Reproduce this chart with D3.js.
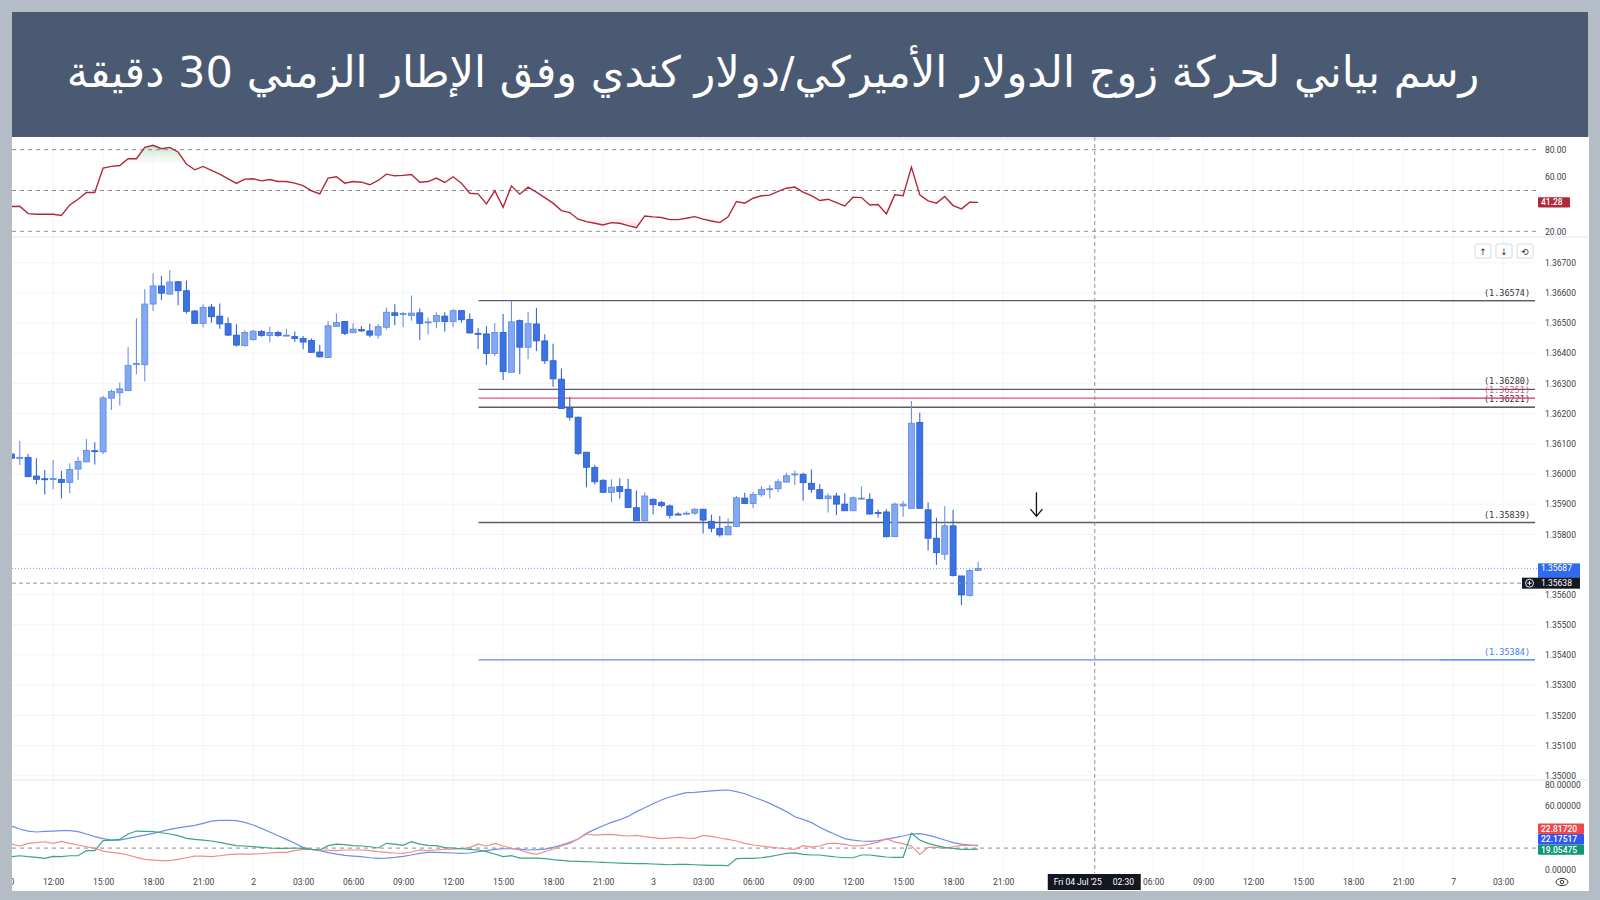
<!DOCTYPE html>
<html><head><meta charset="utf-8">
<script src="https://cdn.jsdelivr.net/npm/d3@7"></script>
<style>body{margin:0;background:#b4bcc6;overflow:hidden}svg{display:block}</style>
</head><body>
<svg id="c" width="1600" height="900"></svg>
<script>
// ---------------- DATA ----------------
const titleText = "رسم بياني لحركة زوج الدولار الأميركي/دولار كندي وفق الإطار الزمني 30 دقيقة";
const barStart = 19; // first bar index (30-minute bars counted from 1 Jul 00:00)
const opens = [
1.36066,1.36051,1.36055,1.35993,1.35984,1.35983,1.35982,1.35972,1.36016,1.36040,
1.36077,1.36073,1.36251,1.36269,1.36276,1.36365,1.36362,1.36563,1.36623,1.36596,
1.36637,1.36607,1.36540,1.36499,1.36553,1.36523,1.36498,1.36460,1.36425,1.36445,
1.36472,1.36459,1.36469,1.36459,1.36455,1.36449,1.36442,1.36404,1.36386,1.36489,
1.36505,1.36468,1.36478,1.36474,1.36460,1.36486,1.36534,1.36531,1.36525,1.36534,
1.36503,1.36505,1.36523,1.36505,1.36541,1.36512,1.36466,1.36464,1.36399,1.36469,
1.36337,1.36508,1.36420,1.36497,1.36441,1.36375,1.36314,1.36217,1.36188,1.36072,
1.36021,1.35979,1.35939,1.35958,1.35949,1.35888,1.35845,1.35916,1.35905,1.35894,
1.35867,1.35868,1.35870,1.35883,1.35843,1.35820,1.35798,1.35826,1.35920,1.35902,
1.35931,1.35950,1.35951,1.35973,1.35999,1.35999,1.35969,1.35948,1.35918,1.35927,
1.35900,1.35878,1.35919,1.35916,1.35872,1.35874,1.35792,1.35894,1.35886,1.36171,
1.35881,1.35787,1.35734,1.35828,1.35662,1.35597,1.35680];
const highs = [
1.36090,1.36110,1.36066,1.36052,1.36013,1.36046,1.36010,1.36035,1.36057,1.36116,
1.36105,1.36258,1.36280,1.36303,1.36420,1.36516,1.36612,1.36665,1.36656,1.36676,
1.36639,1.36641,1.36543,1.36562,1.36563,1.36565,1.36518,1.36496,1.36476,1.36477,
1.36477,1.36488,1.36474,1.36481,1.36472,1.36457,1.36449,1.36427,1.36507,1.36532,
1.36506,1.36499,1.36490,1.36498,1.36497,1.36551,1.36562,1.36537,1.36591,1.36548,
1.36518,1.36536,1.36536,1.36546,1.36543,1.36532,1.36483,1.36490,1.36499,1.36530,
1.36574,1.36512,1.36537,1.36550,1.36463,1.36431,1.36349,1.36256,1.36190,1.36073,
1.36030,1.35982,1.35982,1.35986,1.35984,1.35945,1.35939,1.35919,1.35910,1.35899,
1.35873,1.35876,1.35886,1.35885,1.35865,1.35861,1.35853,1.35927,1.35938,1.35940,
1.35960,1.35963,1.35982,1.36004,1.36011,1.36004,1.36015,1.35967,1.35936,1.35938,
1.35936,1.35925,1.35958,1.35936,1.35881,1.35883,1.35905,1.35910,1.36242,1.36203,
1.35905,1.35855,1.35894,1.35881,1.35662,1.35684,1.35709];
const lows = [
1.36041,1.36030,1.35989,1.35966,1.35932,1.35949,1.35919,1.35936,1.35980,1.36039,
1.36031,1.36066,1.36212,1.36227,1.36276,1.36330,1.36306,1.36540,1.36576,1.36594,
1.36559,1.36532,1.36497,1.36485,1.36501,1.36481,1.36457,1.36422,1.36422,1.36442,
1.36455,1.36436,1.36455,1.36457,1.36437,1.36413,1.36402,1.36386,1.36386,1.36488,
1.36460,1.36466,1.36470,1.36453,1.36448,1.36479,1.36493,1.36486,1.36508,1.36444,
1.36462,1.36483,1.36472,1.36486,1.36501,1.36466,1.36414,1.36361,1.36391,1.36311,
1.36337,1.36330,1.36380,1.36407,1.36364,1.36289,1.36216,1.36177,1.36063,1.35956,
1.35965,1.35938,1.35906,1.35919,1.35888,1.35845,1.35839,1.35866,1.35889,1.35852,
1.35864,1.35864,1.35864,1.35803,1.35807,1.35792,1.35798,1.35825,1.35902,1.35887,
1.35924,1.35919,1.35940,1.35972,1.35963,1.35911,1.35938,1.35916,1.35872,1.35864,
1.35878,1.35877,1.35914,1.35866,1.35856,1.35789,1.35792,1.35858,1.35886,1.35886,
1.35746,1.35698,1.35715,1.35660,1.35566,1.35593,1.35679];
const closes = [
1.36052,1.36055,1.35991,1.35982,1.35983,1.35985,1.35972,1.36015,1.36042,1.36078,
1.36076,1.36252,1.36273,1.36282,1.36359,1.36366,1.36563,1.36623,1.36599,1.36636,
1.36607,1.36539,1.36499,1.36552,1.36521,1.36497,1.36460,1.36427,1.36469,1.36473,
1.36459,1.36469,1.36459,1.36460,1.36449,1.36437,1.36403,1.36388,1.36491,1.36502,
1.36466,1.36480,1.36474,1.36460,1.36488,1.36536,1.36525,1.36532,1.36533,1.36499,
1.36504,1.36525,1.36505,1.36541,1.36511,1.36467,1.36464,1.36399,1.36469,1.36339,
1.36504,1.36420,1.36498,1.36441,1.36375,1.36315,1.36217,1.36188,1.36068,1.36022,
1.35974,1.35939,1.35956,1.35942,1.35889,1.35845,1.35927,1.35898,1.35895,1.35863,
1.35866,1.35870,1.35883,1.35847,1.35820,1.35798,1.35826,1.35921,1.35902,1.35932,
1.35949,1.35951,1.35974,1.35994,1.36000,1.35971,1.35949,1.35918,1.35927,1.35900,
1.35878,1.35921,1.35920,1.35867,1.35871,1.35792,1.35900,1.35900,1.36168,1.35886,
1.35787,1.35739,1.35828,1.35663,1.35599,1.35680,1.35687];
const rsi = [
38.2,38.4,33.0,32.5,32.5,32.5,31.6,39.4,43.6,48.5,
48.5,66.5,67.7,68.4,73.4,73.4,81.7,83.2,80.7,81.7,
78.3,69.4,65.2,67.7,64.8,62.0,58.6,55.2,58.4,58.6,
57.1,58.1,56.6,56.6,55.4,53.6,49.8,47.5,59.1,60.1,
55.4,56.6,56.1,54.2,57.4,62.0,60.8,61.1,61.8,56.1,
56.6,59.1,55.9,60.1,55.4,48.0,47.5,40.2,49.8,37.7,
53.4,47.3,52.5,48.8,44.8,
40.7,35.2,33.8,28.9,27.1,25.9,24.7,26.4,25.9,24.2,
22.7,31.3,30.6,30.1,28.6,28.6,29.6,30.8,28.9,27.6,
26.4,30.6,41.9,40.7,44.3,46.1,46.6,49.3,51.7,52.5,
48.8,46.3,42.6,43.6,41.1,38.7,45.1,44.8,39.4,39.7,
32.8,46.8,46.1,67.2,46.8,42.4,40.7,45.6,38.9,36.5,
41.4,41.28];
const adx = [
40.8,38.0,36.1,35.2,35.8,36.1,36.4,36.4,35.5,33.3,
30.8,28.9,27.6,27.6,29.2,30.8,32.3,33.9,35.8,37.7,
39.0,40.2,41.5,43.4,45.5,46.2,46.2,45.9,44.3,41.8,
38.6,35.2,31.7,28.2,24.5,20.7,18.8,17.6,15.7,14.4,
13.2,12.5,11.9,10.9,10.3,10.6,11.3,12.2,13.5,15.0,
16.0,16.0,15.7,15.4,15.0,15.4,16.6,17.6,18.8,19.4,
19.4,19.1,
18.2,18.5,19.1,20.7,22.9,25.4,28.6,33.9,37.7,41.1,
44.3,46.8,49.9,54.4,58.1,61.9,65.4,68.2,70.4,72.3,
72.6,73.2,73.9,74.5,74.8,73.2,71.3,68.2,65.4,62.2,
58.4,54.4,49.6,47.1,44.0,39.6,35.8,32.3,28.9,27.6,
26.7,26.4,27.0,28.2,29.8,31.4,33.3,33.6,32.3,30.1,
27.6,25.1,23.8,22.9,22.17517];
const diMinus = [
23.8,22.0,24.5,25.1,26.0,24.5,26.4,24.5,22.9,21.3,
19.8,17.2,16.0,15.0,13.5,11.3,9.4,8.7,8.1,8.1,
9.4,10.9,12.5,12.5,11.9,12.8,13.8,14.4,14.4,14.4,
14.7,15.4,16.0,16.0,17.6,18.8,18.8,18.2,17.9,17.6,
18.2,18.2,18.2,17.6,16.6,16.0,15.4,15.0,16.3,18.2,
17.6,18.2,19.1,19.1,19.4,20.7,23.8,22.0,24.5,22.0,
19.8,18.2,
15.7,14.1,16.6,19.1,22.0,24.5,28.6,33.3,32.3,32.7,
33.0,32.0,31.4,32.0,30.8,29.8,28.9,29.5,30.1,29.5,
29.2,32.0,31.1,29.5,28.2,26.7,24.5,22.9,22.0,21.0,
20.1,19.4,18.8,22.3,21.0,22.0,24.5,24.5,23.5,22.0,
22.3,23.8,25.7,28.9,25.7,24.2,22.0,14.1,20.7,20.7,
19.8,21.3,22.6,22.6,22.81720];
const diPlus = [
11.9,12.8,11.9,11.3,10.3,12.2,11.9,12.8,12.8,17.6,
17.6,27.0,27.6,28.2,33.3,36.1,35.8,35.5,34.5,33.3,
31.7,29.2,28.2,27.6,26.7,25.4,23.8,22.3,22.0,21.3,
20.7,20.1,19.8,19.8,20.1,19.8,18.8,18.2,22.3,23.8,
23.2,22.3,22.0,21.3,20.1,24.5,23.8,22.6,26.0,23.8,
22.6,22.3,20.4,20.1,19.4,18.8,18.2,16.6,14.4,11.9,
12.8,10.6,
10.6,10.6,10.0,9.1,8.4,7.8,7.5,7.2,6.9,6.5,
6.2,5.9,5.6,5.3,5.3,5.0,4.7,4.3,4.7,4.7,
4.3,4.0,3.7,3.7,3.4,10.0,10.3,10.3,10.9,11.9,
13.5,15.0,15.4,14.1,13.5,13.5,12.5,11.6,10.9,10.9,
13.5,13.5,12.5,11.6,11.3,11.3,33.9,27.6,24.5,22.3,
20.7,19.8,18.8,18.8,19.05475];
const priceTicks = [1.367,1.366,1.365,1.364,1.363,1.362,1.361,1.360,1.359,1.358,1.356,1.355,1.354,1.353,1.352,1.351,1.350];
const rsiTicks = [80,60,20];
const rsiBands = [80,50,20];
const dmiTicks = [80,60,0];
const dmiBand = 20;
const tickBars = [18,24,30,36,42,48,54,60,66,72,78,84,90,96,102,108,114,120,126,132,138,156,162,168,174,180,186,192,198];
const tickLabels = ["09:00","12:00","15:00","18:00","21:00","2","03:00","06:00","09:00","12:00","15:00","18:00","21:00","3","03:00","06:00","09:00","12:00","15:00","18:00","21:00","06:00","09:00","12:00","15:00","18:00","21:00","7","03:00"];
const levels = [1.36574,1.36280,1.36251,1.36221,1.35839,1.35384];
const levelKinds = ["k","k","p","k","k","b"];
const levelStartBar = 75;
const lastPrice = 1.35687;
const crossPrice = 1.35638;
const crossBar = 149;
const crossTimeText = ["Fri 04 Jul '25","02:30"];
const arrowBar = 142, arrowFrom = 1.35939, arrowTo = 1.35860;
const rsiLast = 41.28;

// ---------------- LAYOUT ----------------
const L = 12, R = 1537, AX = 1545;
const svg = d3.select("#c");
const x = d3.scaleLinear().domain([48, 96]).range([253.1, 653.1]);
const yP = d3.scaleLinear().domain([1.35, 1.367]).range([775.7, 262.7]);
const yR = d3.scaleLinear().domain([20, 80]).range([231.3, 149.7]);
const yD = d3.scaleLinear().domain([0, 80]).range([869.3, 784.5]);
const axisFont = "Roboto, 'DejaVu Sans', sans-serif";
const txtCol = "#3a3e48";

svg.append("rect").attr("width", 1600).attr("height", 900).attr("fill", "#b4bcc6");
svg.append("rect").attr("x", 12).attr("y", 12).attr("width", 1576).attr("height", 125).attr("fill", "#4a5a73");
svg.append("rect").attr("x", 12).attr("y", 137).attr("width", 1577).attr("height", 754).attr("fill", "#ffffff");

const defs = svg.append("defs");
function clip(id, cx, cy, w, h) { defs.append("clipPath").attr("id", id).append("rect").attr("x", cx).attr("y", cy).attr("width", w).attr("height", h); }
clip("cR", L, 137, R - L, 100);
clip("cM", L, 237, R - L, 543);
clip("cD", L, 780, R - L, 93);
clip("cT", L, 872, 1576, 19);
clip("cAll", L, 137, R - L, 736);
const gradG = defs.append("linearGradient").attr("id", "gG").attr("x1", 0).attr("x2", 0).attr("y1", 0).attr("y2", 1);
gradG.append("stop").attr("offset", "0%").attr("stop-color", "#b9dfc4").attr("stop-opacity", 0.9);
gradG.append("stop").attr("offset", "100%").attr("stop-color", "#e9f5ec").attr("stop-opacity", 0.3);
const gradP = defs.append("linearGradient").attr("id", "gP").attr("x1", 0).attr("x2", 0).attr("y1", 1).attr("y2", 0);
gradP.append("stop").attr("offset", "0%").attr("stop-color", "#f8d3d8").attr("stop-opacity", 0.8);
gradP.append("stop").attr("offset", "100%").attr("stop-color", "#fcecee").attr("stop-opacity", 0.3);

// Title
const title = svg.append("text").attr("x", 773).attr("y", 87).attr("text-anchor", "middle")
  .attr("direction", "rtl").attr("fill", "#ffffff").attr("font-family", "'DejaVu Sans', sans-serif")
  .attr("font-size", 40).text(titleText);
const tl = title.node().getComputedTextLength();
if (tl > 0) title.attr("font-size", 40 * 1413 / tl);

// top faint strip
svg.append("rect").attr("x", 530).attr("y", 137).attr("width", 640).attr("height", 3).attr("fill", "#eceef1");

// grid
const gGrid = svg.append("g").attr("clip-path", "url(#cAll)");
gGrid.selectAll("line.v").data(tickBars).join("line")
  .attr("x1", d => x(d)).attr("x2", d => x(d)).attr("y1", 137).attr("y2", 873)
  .attr("stroke", "#f3f4f7").attr("stroke-width", 1);
gGrid.selectAll("line.h").data(priceTicks).join("line")
  .attr("x1", L).attr("x2", R).attr("y1", d => yP(d)).attr("y2", d => yP(d))
  .attr("stroke", "#f3f4f7").attr("stroke-width", 1);

// pane separators
[237, 780].forEach(yy => svg.append("line").attr("x1", L).attr("x2", 1588).attr("y1", yy).attr("y2", yy).attr("stroke", "#e3e6ec").attr("stroke-width", 1));

const bars = d3.range(opens.length).map(i => ({ t: barStart + i, o: opens[i], h: highs[i], l: lows[i], c: closes[i], r: rsi[i], a: adx[i], m: diMinus[i], p: diPlus[i] }));

// ---------- RSI pane ----------
const gR = svg.append("g").attr("clip-path", "url(#cR)");
gR.append("path").datum(bars).attr("fill", "url(#gG)")
  .attr("d", d3.area().x(d => x(d.t)).y0(yR(70)).y1(d => yR(Math.max(d.r, 70))));
gR.append("path").datum(bars).attr("fill", "url(#gP)")
  .attr("d", d3.area().x(d => x(d.t)).y0(yR(30)).y1(d => yR(Math.min(d.r, 30))));
gR.selectAll("line.band").data(rsiBands).join("line")
  .attr("x1", L).attr("x2", R).attr("y1", d => yR(d)).attr("y2", d => yR(d))
  .attr("stroke", "#8a8d94").attr("stroke-width", 1).attr("stroke-dasharray", "4,4");
gR.append("path").datum(bars).attr("fill", "none").attr("stroke", "#b2283b").attr("stroke-width", 1.4)
  .attr("d", d3.line().x(d => x(d.t)).y(d => yR(d.r)));

// ---------- Main pane ----------
const gM = svg.append("g").attr("clip-path", "url(#cM)");
gM.append("line").attr("x1", L).attr("x2", R).attr("y1", yP(lastPrice)).attr("y2", yP(lastPrice))
  .attr("stroke", "#7b9ff0").attr("stroke-width", 1).attr("stroke-dasharray", "1,2");
const lvlStroke = { k: "#5a5d66", p: "#e4527f", b: "#5a8cf0" };
const lvlText = { k: "#2f323a", p: "#e4527f", b: "#4a7ce8" };
gM.selectAll("line.lvl").data(levels).join("line")
  .attr("x1", x(levelStartBar) + 0.5).attr("x2", 1535)
  .attr("y1", d => yP(d)).attr("y2", d => yP(d))
  .attr("stroke", (d, i) => lvlStroke[levelKinds[i]]).attr("stroke-width", 1.3);
gM.selectAll("line.wick").data(bars).join("line")
  .attr("x1", d => x(d.t)).attr("x2", d => x(d.t))
  .attr("y1", d => yP(d.h)).attr("y2", d => yP(d.l))
  .attr("stroke", d => d.c >= d.o ? "#6b91e4" : "#3667d8").attr("stroke-width", 1.1);
gM.selectAll("rect.body").data(bars).join("rect")
  .attr("x", d => x(d.t) - 3).attr("width", 6)
  .attr("y", d => yP(Math.max(d.o, d.c)))
  .attr("height", d => Math.max(1, Math.abs(yP(d.o) - yP(d.c))))
  .attr("fill", d => d.c >= d.o ? "#82a8f3" : "#3b73e3")
  .attr("stroke", d => d.c >= d.o ? "#5d87e2" : "#2a5cca").attr("stroke-width", 0.8);
svg.selectAll("text.lvl").data(levels).join("text")
  .attr("x", 1530).attr("y", d => yP(d) - 5).attr("text-anchor", "end")
  .attr("font-family", "'DejaVu Sans Mono', monospace").attr("font-size", 8.5)
  .attr("fill", (d, i) => lvlText[levelKinds[i]])
  .text(d => "(" + d3.format(".5f")(d) + ")");
svg.selectAll("line.lvl2").data(levels).join("line")
  .attr("x1", 1440).attr("x2", 1535)
  .attr("y1", d => yP(d)).attr("y2", d => yP(d))
  .attr("stroke", (d, i) => lvlStroke[levelKinds[i]]).attr("stroke-width", 1.1);

// arrow
const ax0 = x(arrowBar);
gM.append("line").attr("x1", ax0).attr("x2", ax0).attr("y1", yP(arrowFrom)).attr("y2", yP(arrowTo))
  .attr("stroke", "#111").attr("stroke-width", 1.3);
gM.append("path").attr("d", `M${ax0 - 6},${yP(arrowTo) - 7} L${ax0},${yP(arrowTo)} L${ax0 + 6},${yP(arrowTo) - 7}`)
  .attr("fill", "none").attr("stroke", "#111").attr("stroke-width", 1.3);

// top-right buttons
const btn = svg.append("g");
[["↑", 1475], ["↓", 1496], ["⟲", 1517]].forEach(([g, bx]) => {
  btn.append("rect").attr("x", bx).attr("y", 244).attr("width", 16).attr("height", 14).attr("rx", 2)
    .attr("fill", "#fff").attr("stroke", "#d6d9df");
  btn.append("text").attr("x", bx + 8).attr("y", 254.5).attr("text-anchor", "middle")
    .attr("font-family", "'DejaVu Sans', sans-serif").attr("font-size", 9).attr("fill", "#333").text(g);
});

// ---------- DMI pane ----------
const gD = svg.append("g").attr("clip-path", "url(#cD)");
gD.append("line").attr("x1", L).attr("x2", R).attr("y1", yD(dmiBand)).attr("y2", yD(dmiBand))
  .attr("stroke", "#8a8d94").attr("stroke-width", 1).attr("stroke-dasharray", "4,4");
[["a", "#6f8fe9"], ["m", "#f28c8c"], ["p", "#3ba586"]].forEach(([k, col]) => {
  gD.append("path").datum(bars).attr("fill", "none").attr("stroke", col).attr("stroke-width", 1.2)
    .attr("d", d3.line().x(d => x(d.t)).y(d => yD(d[k])));
});

// ---------- crosshair ----------
const gC = svg.append("g").attr("clip-path", "url(#cAll)");
gC.append("line").attr("x1", x(crossBar)).attr("x2", x(crossBar)).attr("y1", 137).attr("y2", 873)
  .attr("stroke", "#8f939b").attr("stroke-width", 1).attr("stroke-dasharray", "4,3");
gC.append("line").attr("x1", L).attr("x2", R).attr("y1", yP(crossPrice)).attr("y2", yP(crossPrice))
  .attr("stroke", "#8f939b").attr("stroke-width", 1).attr("stroke-dasharray", "4,3");

// ---------- axes ----------
function styleAxis(g) {
  g.select(".domain").remove();
  g.selectAll(".tick line").remove();
  g.selectAll("text").attr("font-family", axisFont).attr("font-size", 8.5).attr("fill", txtCol);
}
svg.append("g").attr("transform", `translate(${AX},0)`)
  .call(d3.axisRight(yP).tickValues(priceTicks).tickFormat(d3.format(".5f")).tickSize(0).tickPadding(0))
  .call(styleAxis);
svg.append("g").attr("transform", `translate(${AX},0)`)
  .call(d3.axisRight(yR).tickValues(rsiTicks).tickFormat(d3.format(".2f")).tickSize(0).tickPadding(0))
  .call(styleAxis);
svg.append("g").attr("transform", `translate(${AX},0)`)
  .call(d3.axisRight(yD).tickValues(dmiTicks).tickFormat(d3.format(".5f")).tickSize(0).tickPadding(0))
  .call(styleAxis);
svg.append("g").attr("clip-path", "url(#cT)")
  .append("g").attr("transform", "translate(0,876)")
  .call(d3.axisBottom(x).tickValues(tickBars).tickFormat((d, i) => tickLabels[i]).tickSize(0).tickPadding(3))
  .call(styleAxis);

// ---------- value labels ----------
function tag(yc, w, bg, txt, fg) {
  svg.append("rect").attr("x", 1538).attr("y", yc - 5.2).attr("width", w).attr("height", 10.4).attr("rx", 1).attr("fill", bg);
  svg.append("text").attr("x", 1541).attr("y", yc + 3).attr("font-family", axisFont).attr("font-size", 8.5)
    .attr("font-weight", 500).attr("fill", fg || "#fff").text(txt);
}
tag(yR(rsiLast), 32, "#b2283b", d3.format(".2f")(rsiLast));
svg.append("rect").attr("x", 1538).attr("y", yP(lastPrice) - 5).attr("width", 42).attr("height", 14.5).attr("fill", "#2f6bf0");
svg.append("text").attr("x", 1541).attr("y", yP(lastPrice) + 3).attr("font-family", axisFont).attr("font-size", 8.5).attr("fill", "#fff").text(d3.format(".5f")(lastPrice));
svg.append("rect").attr("x", 1522).attr("y", yP(crossPrice) - 5.5).attr("width", 58).attr("height", 11).attr("fill", "#131722");
svg.append("text").attr("x", 1541).attr("y", yP(crossPrice) + 3).attr("font-family", axisFont).attr("font-size", 8.5).attr("fill", "#fff").text(d3.format(".5f")(crossPrice));
svg.append("circle").attr("cx", 1529.5).attr("cy", yP(crossPrice)).attr("r", 4).attr("fill", "none").attr("stroke", "#fff").attr("stroke-width", 0.9);
svg.append("path").attr("d", `M1527.3,${yP(crossPrice)} h4.4 M1529.5,${yP(crossPrice) - 2.2} v4.4`).attr("stroke", "#fff").attr("stroke-width", 0.9);
const dmiTags = [
  { v: diPlus[diPlus.length - 1], bg: "#0f9577" },
  { v: adx[adx.length - 1], bg: "#3157f0" },
  { v: diMinus[diMinus.length - 1], bg: "#f0474f" }
].sort((a, b) => a.v - b.v);
let yc = yD(dmiTags[0].v) + 0.5;
dmiTags.forEach((d, i) => { tag(yc - i * 10.4, 46, d.bg, d3.format(".5f")(d.v)); });

// crosshair time label
const cx0 = x(crossBar);
svg.append("rect").attr("x", cx0 - 47).attr("y", 874).attr("width", 93).attr("height", 16).attr("fill", "#131722");
svg.append("text").attr("x", cx0 - 41).attr("y", 885).attr("font-family", axisFont).attr("font-size", 8.5).attr("fill", "#fff").text(crossTimeText[0]);
svg.append("text").attr("x", cx0 + 18).attr("y", 885).attr("font-family", axisFont).attr("font-size", 8.5).attr("fill", "#fff").text(crossTimeText[1]);

// eye icon
svg.append("ellipse").attr("cx", 1562).attr("cy", 882).attr("rx", 6).attr("ry", 3.6).attr("fill", "none").attr("stroke", "#333").attr("stroke-width", 1);
svg.append("circle").attr("cx", 1562).attr("cy", 882).attr("r", 1.8).attr("fill", "none").attr("stroke", "#333").attr("stroke-width", 1);
</script>
</body></html>
